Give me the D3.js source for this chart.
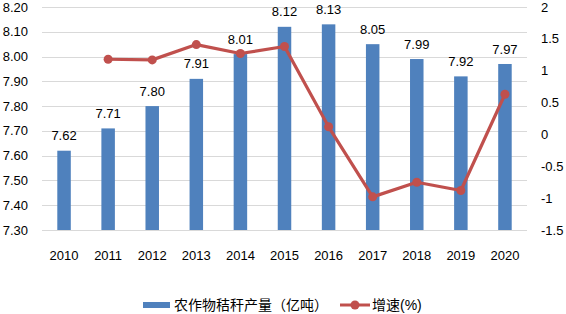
<!DOCTYPE html>
<html lang="zh">
<head>
    <meta charset="UTF-8">
    <title>chart</title>
    <script src="https://cdn.jsdelivr.net/npm/d3@7.8.5/dist/d3.min.js"></script>
    <style>
        body { margin: 0; background: #fff; }
        text { font-family: "Liberation Sans", "Noto Sans CJK SC", sans-serif; fill: #000; }
    </style>
</head>
<body>
<div id="chart"></div>
<script type="text/javascript">
    const years = ["2010", "2011", "2012", "2013", "2014", "2015", "2016", "2017", "2018", "2019", "2020"];
    const output = [7.62, 7.71, 7.80, 7.91, 8.01, 8.12, 8.13, 8.05, 7.99, 7.92, 7.97];
    const growth = [null, 1.18, 1.17, 1.41, 1.27, 1.38, 0.12, -0.98, -0.75, -0.88, 0.63];
    const leftTicks = [7.30, 7.40, 7.50, 7.60, 7.70, 7.80, 7.90, 8.00, 8.10, 8.20];
    const rightTicks = [-1.5, -1, -0.5, 0, 0.5, 1, 1.5, 2];
    const legendNames = ["农作物秸秆产量（亿吨）", "增速(%)"];

    const width = 566, height = 314;
    const margin = {top: 7, right: 39, bottom: 84, left: 42};

    const svg = d3.select('#chart').append('svg')
        .attr('width', width).attr('height', height);

    const x = d3.scaleBand().domain(years)
        .range([margin.left, width - margin.right]).paddingInner(0).paddingOuter(0);
    const yL = d3.scaleLinear().domain([7.30, 8.20]).range([height - margin.bottom, margin.top]);
    const yR = d3.scaleLinear().domain([-1.5, 2]).range([height - margin.bottom, margin.top]);

    // gridlines
    svg.append("g").selectAll("line").data(leftTicks).join("line")
        .attr("x1", margin.left).attr("x2", width - margin.right)
        .attr("y1", d => Math.round(yL(d)) + 0.5).attr("y2", d => Math.round(yL(d)) + 0.5)
        .attr("stroke", "#d9d9d9").attr("stroke-width", 1);

    // left axis labels
    svg.append("g").selectAll("text").data(leftTicks).join("text")
        .attr("x", 28).attr("y", d => yL(d)).attr("dy", "0.35em")
        .attr("text-anchor", "end").style("font-size", "13px")
        .text(d => d.toFixed(2));

    // right axis labels
    svg.append("g").selectAll("text").data(rightTicks).join("text")
        .attr("x", 541).attr("y", d => yR(d)).attr("dy", "0.35em")
        .attr("text-anchor", "start").style("font-size", "13px")
        .text(d => d);

    // x labels
    svg.append("g").selectAll("text").data(years).join("text")
        .attr("x", d => x(d) + x.bandwidth() / 2).attr("y", 255).attr("dy", "0.35em")
        .attr("text-anchor", "middle").style("font-size", "13px")
        .text(d => d);

    // bars
    const bw = 13.5;
    svg.append("g").selectAll("rect").data(output).join("rect")
        .attr("x", (d, i) => x(years[i]) + x.bandwidth() / 2 - bw / 2)
        .attr("y", d => yL(d))
        .attr("width", bw)
        .attr("height", d => yL(7.30) - yL(d))
        .attr("fill", "#4f81bd");

    // bar labels
    svg.append("g").selectAll("text").data(output).join("text")
        .attr("x", (d, i) => x(years[i]) + x.bandwidth() / 2)
        .attr("y", d => yL(d) - 15).attr("dy", "0.35em")
        .attr("text-anchor", "middle").style("font-size", "13px")
        .text(d => d.toFixed(2));

    // growth line
    const pts = growth.map((v, i) => [years[i], v]).filter(d => d[1] !== null);
    const line = d3.line()
        .x(d => x(d[0]) + x.bandwidth() / 2)
        .y(d => yR(d[1]));
    svg.append("path").attr("d", line(pts))
        .attr("fill", "none").attr("stroke", "#c0504d").attr("stroke-width", 3.2)
        .attr("stroke-linejoin", "round");
    svg.append("g").selectAll("circle").data(pts).join("circle")
        .attr("cx", d => x(d[0]) + x.bandwidth() / 2)
        .attr("cy", d => yR(d[1]))
        .attr("r", 4.5).attr("fill", "#c0504d");

    // legend
    const lg = svg.append("g");
    lg.append("rect").attr("x", 143).attr("y", 302).attr("width", 27).attr("height", 6).attr("fill", "#4f81bd");
    lg.append("text").attr("x", 174).attr("y", 305).attr("dy", "0.35em")
        .style("font-size", "14px").text(legendNames[0]);
    lg.append("line").attr("x1", 340).attr("x2", 370).attr("y1", 305).attr("y2", 305)
        .attr("stroke", "#c0504d").attr("stroke-width", 3);
    lg.append("circle").attr("cx", 355).attr("cy", 305).attr("r", 4.5).attr("fill", "#c0504d");
    lg.append("text").attr("x", 372).attr("y", 305).attr("dy", "0.35em")
        .style("font-size", "14px").text(legendNames[1]);
</script>
</body>
</html>
